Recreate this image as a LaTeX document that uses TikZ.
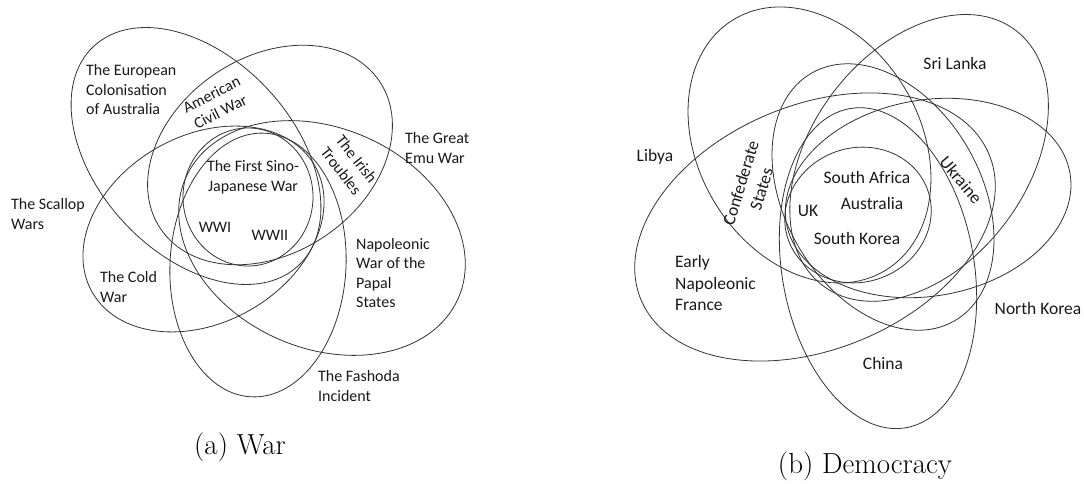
\documentclass[tikz,border=0pt]{standalone}
\usepackage{fontspec}
\newfontfamily\calfont{Carlito}
\usetikzlibrary{positioning}

\begin{document}
\begin{tikzpicture}[x=1pt, y=1pt,
	venn/.style={draw=black!80, line width=0.8pt},
	lbl/.style={inner sep=0pt, text=black!90, font=\calfont\fontsize{16}{19.5}\selectfont},
	lblb/.style={inner sep=0pt, text=black!90, font=\calfont\fontsize{17.5}{21.5}\selectfont},
	capt/.style={inner sep=0pt, font=\fontsize{29}{34}\selectfont}]
	\useasboundingbox (0,0) rectangle (1084,-484);
	% (a) War
	\coordinate (euro) at (196,-156); \coordinate (emu) at (270,-155); \coordinate (cold) at (203.5,-229); \coordinate (napo) at (322,-238); \coordinate (fash) at (258,-265); \coordinate (core) at (248,-197);
	\draw[venn, rotate around={-47:(euro)}] (euro) ellipse [x radius=150pt, y radius=98pt];
	\draw[venn, rotate around={34:(emu)}] (emu) ellipse [x radius=132pt, y radius=98pt];
	\draw[venn, rotate around={29.5:(cold)}] (cold) ellipse [x radius=128pt, y radius=93.5pt];
	\draw[venn, rotate around={-24:(napo)}] (napo) ellipse [x radius=149pt, y radius=110pt];
	\draw[venn, rotate around={-3:(fash)}] (fash) ellipse [x radius=88pt, y radius=132pt];
	\draw[venn] (core) ellipse [x radius=65pt, y radius=69pt];
	\node[lbl, anchor=west, align=left] (europe) at (86,-90) {The European\\Colonisation\\of Australia};
	\node[lbl, anchor=west, align=left] (scallop) at (11,-214) {The Scallop\\Wars};
	\node[lbl, anchor=west, align=left] (emuwar) at (405,-148) {The Great\\Emu War};
	\node[lbl, anchor=west, align=left] (coldwar) at (100,-287) {The Cold\\War};
	\node[lbl, anchor=west, align=left] (papal) at (356,-273) {Napoleonic\\War of the\\Papal\\States};
	\node[lbl, anchor=west, align=left] (fashoda) at (318,-386) {The Fashoda\\Incident};
	\node[lbl, align=center] (sino) at (253,-177) {The First Sino-\\Japanese War};
	\node[lbl] (wwone) at (215,-227) {WWI};
	\node[lbl] (wwtwo) at (270,-235) {WWII};
	\node[lbl, align=center, rotate=27] (civil) at (216,-103) {American\\Civil War};
	\node[lbl, align=center, rotate=-52] (irish) at (349,-165) {The Irish\\Troubles};
	\node[capt] (capa) at (240,-447) {(a) War};
	% (b) Democracy
	\coordinate (confed) at (809.5,-145); \coordinate (lanka) at (919,-158); \coordinate (nkor) at (928,-198); \coordinate (france) at (815,-227); \coordinate (china) at (878,-268); \coordinate (ukel) at (883,-197); \coordinate (inner) at (858,-215);
	\draw[venn, rotate around={-58.9:(confed)}] (confed) ellipse [x radius=146.6pt, y radius=110.9pt];
	\draw[venn, rotate around={53:(lanka)}] (lanka) ellipse [x radius=160pt, y radius=108pt];
	\draw[venn, rotate around={10:(nkor)}] (nkor) ellipse [x radius=144pt, y radius=98pt];
	\draw[venn, rotate around={22.7:(france)}] (france) ellipse [x radius=188.6pt, y radius=122pt];
	\draw[venn, rotate around={-80:(china)}] (china) ellipse [x radius=162pt, y radius=96pt];
	\draw[venn, rotate around={-60:(ukel)}] (ukel) ellipse [x radius=143pt, y radius=98pt];
	\draw[venn, rotate around={20:(inner)}] (inner) ellipse [x radius=74pt, y radius=67pt];
	\node[lblb] (srilanka) at (955,-63) {Sri Lanka};
	\node[lblb] (libya) at (655,-157) {Libya};
	\node[lblb, align=center, rotate=73] (confstates) at (751,-186) {Confederate\\States};
	\node[lblb, rotate=-50] (ukraine) at (961,-180) {Ukraine};
	\node[lblb] (safrica) at (867,-177) {South Africa};
	\node[lblb] (austr) at (872,-203) {Australia};
	\node[lblb] (skorea) at (857,-238) {South Korea};
	\node[lblb] (uk) at (808,-211) {UK};
	\node[lblb, anchor=west, align=left] (early) at (675,-283) {Early\\Napoleonic\\France};
	\node[lblb] (nkorea) at (1038,-308) {North Korea};
	\node[lblb] (chinalbl) at (883,-363) {China};
	\node[capt] (capb) at (865,-466) {(b) Democracy};
\end{tikzpicture}
\end{document}
